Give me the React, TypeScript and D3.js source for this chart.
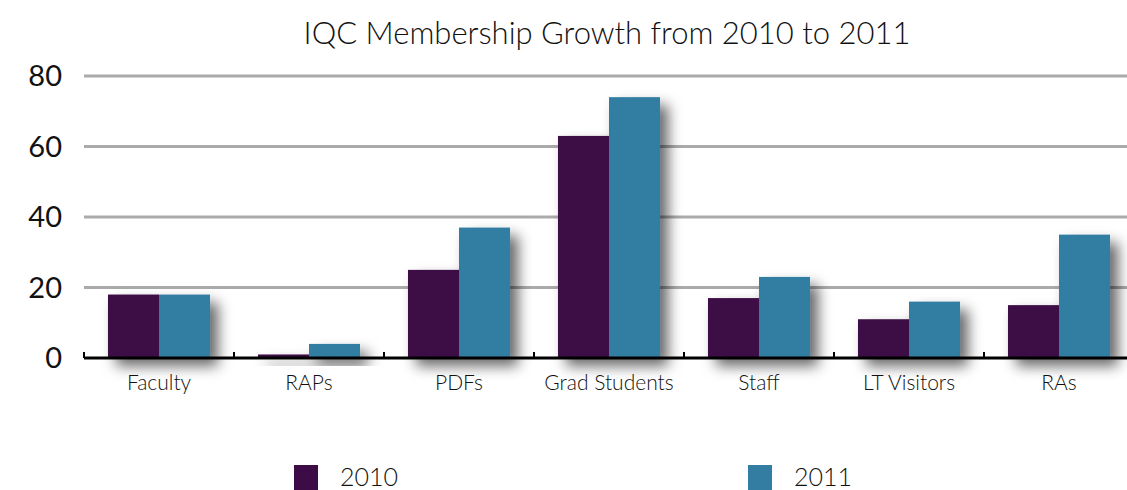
import React from "react";
import * as d3 from "d3";

const categories: string[] = ["Faculty", "RAPs", "PDFs", "Grad Students", "Staff", "LT Visitors", "RAs"];
const series: string[] = ["2010", "2011"];
const values2010: number[] = [18, 1, 25, 63, 17, 11, 15];
const values2011: number[] = [18, 4, 37, 74, 23, 16, 35];
const yTicks: number[] = [0, 20, 40, 60, 80];
const colors: string[] = ["#3d0b45", "#337da2"];

const W = 1127;
const H = 490;
const FONT = "Lato, 'Open Sans', sans-serif";

export default function App() {
    const x0 = d3.scaleBand<string>().domain(categories).range([84, 1134]).paddingInner(0).paddingOuter(0);
    const x1 = d3.scaleBand<string>().domain(series).range([0, x0.bandwidth()]).paddingInner(0).paddingOuter(0.47);
    const y = d3.scaleLinear().domain([0, 80]).range([358, 76]);
    const all = [values2010, values2011];

    return (
        <svg width={W} height={H} style={{ position: "absolute", left: 0, top: 0 }} fontFamily={FONT}>
            <defs>
                <filter id="shadow" x="-40%" y="-40%" width="190%" height="190%">
                    <feDropShadow dx="8" dy="8" stdDeviation="7" floodColor="#000" floodOpacity="0.6" />
                </filter>
            </defs>
            <text x={607} y={44} textAnchor="middle" fontSize={31} fontWeight={300} fill="#111">
                IQC Membership Growth from 2010 to 2011
            </text>

            {yTicks.map(t => (
                <g key={t}>
                    {t > 0 && <line x1={84} x2={W} y1={y(t)} y2={y(t)} stroke="#aaa" strokeWidth={3} />}
                    <text x={62} y={y(t) + 10} textAnchor="end" fontSize={29} fill="#111">{t}</text>
                </g>
            ))}

            {categories.map((c, i) => (
                <g key={c} transform={`translate(${x0(c)},0)`} filter="url(#shadow)">
                    {series.map((s, j) => (
                        <rect key={s} x={x1(s)} width={x1.bandwidth()} y={y(all[j][i])}
                            height={y(0) - y(all[j][i])} fill={colors[j]} />
                    ))}
                </g>
            ))}

            <line x1={84} x2={W} y1={y(0)} y2={y(0)} stroke="#000" strokeWidth={3} />
            {categories.map(c => (
                <line key={c} x1={x0(c)!} x2={x0(c)!} y1={y(0)} y2={y(0) - 6} stroke="#000" strokeWidth={2} />
            ))}
            {categories.map(c => (
                <text key={c} x={x0(c)! + x0.bandwidth() / 2} y={390} textAnchor="middle" fontSize={21} fontWeight={300} fill="#111">{c}</text>
            ))}

            {series.map((s, j) => {
                const lx = [294, 748][j];
                return (
                    <g key={s}>
                        <rect x={lx} y={465} width={24} height={25} fill={colors[j]} />
                        <text x={lx + 46} y={486} fontSize={25} fontWeight={300} fill="#111">{s}</text>
                    </g>
                );
            })}
        </svg>
    );
}
